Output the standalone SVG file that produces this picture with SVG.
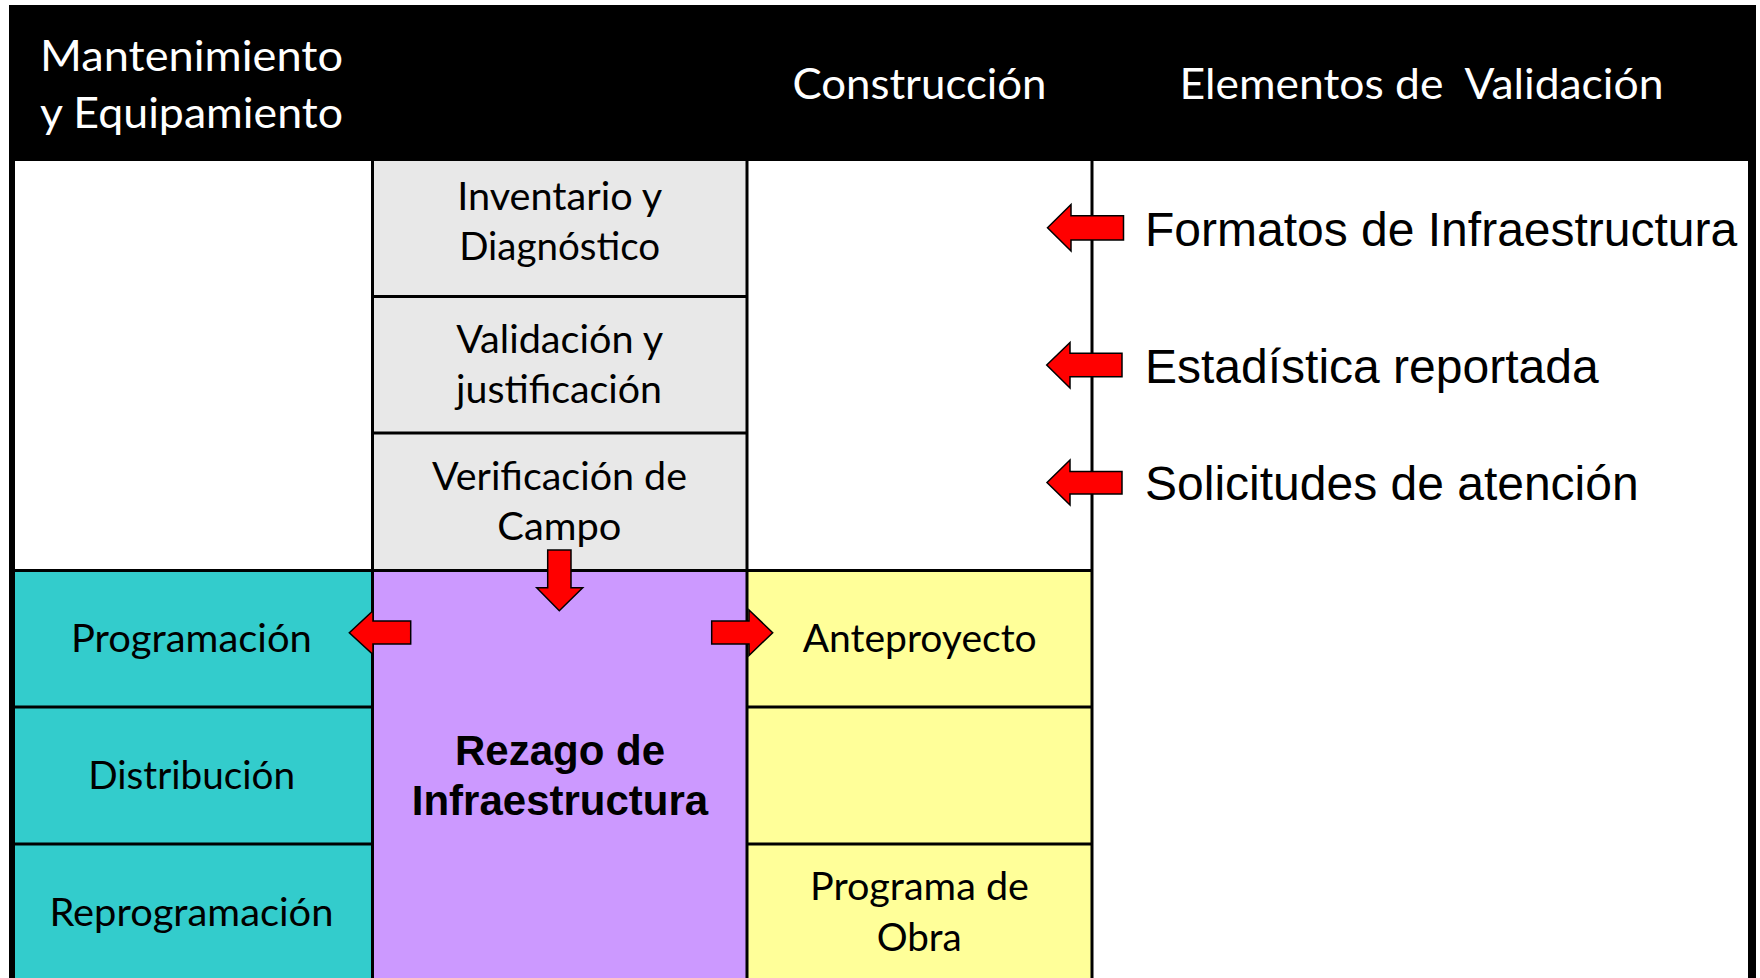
<svg xmlns="http://www.w3.org/2000/svg" width="1760" height="978" viewBox="0 0 1760 978">
<style>
.cal{font-family:Lato,"Open Sans","Noto Sans",sans-serif}
.hdr{fill:#ffffff;font-size:42.5px}
.cell{fill:#000000;font-size:38px;text-anchor:middle}
.ar{font-family:"Liberation Sans",Arial,sans-serif;font-size:48px;fill:#000000}
.bold{font-family:"Liberation Sans",Arial,sans-serif;font-size:42px;font-weight:bold;text-anchor:middle;fill:#000000}
.grid{stroke:#000000;stroke-width:3;fill:none}
.arrow{fill:#ff0000;stroke:#000000;stroke-width:1.5;stroke-linejoin:miter}
</style>
<rect x="0" y="0" width="1760" height="978" fill="#ffffff"/>
<g id="frame">
<rect x="9" y="5" width="1747" height="973" fill="#000000"/>
<rect x="15" y="161" width="1733" height="817" fill="#ffffff"/>
</g>
<g id="header">
<text class="cal hdr" x="40" y="71" textLength="303" lengthAdjust="spacingAndGlyphs">Mantenimiento</text>
<text class="cal hdr" x="40" y="128" textLength="303" lengthAdjust="spacingAndGlyphs">y Equipamiento</text>
<text class="cal hdr" x="792.5" y="99.3" textLength="254" lengthAdjust="spacingAndGlyphs">Construcción</text>
<text class="cal hdr" x="1179.5" y="99.3" textLength="484" lengthAdjust="spacingAndGlyphs" xml:space="preserve">Elementos de  Validación</text>
</g>
<g id="col-gray">
<rect x="372.5" y="161" width="374.5" height="409.5" fill="#e8e8e8"/>
</g>
<g id="col-teal">
<rect x="15" y="570.5" width="357.5" height="407.5" fill="#33cccc"/>
</g>
<g id="rezago">
<rect x="372.5" y="570.5" width="374.5" height="407.5" fill="#cc99ff"/>
<text class="bold" x="560" y="765">Rezago de</text>
<text class="bold" x="560" y="815">Infraestructura</text>
</g>
<g id="col-yellow">
<rect x="747" y="570.5" width="345" height="407.5" fill="#ffff99"/>
</g>
<g id="grid">
<line class="grid" x1="372.5" y1="161" x2="372.5" y2="978"/>
<line class="grid" x1="747" y1="161" x2="747" y2="978"/>
<line class="grid" x1="1092" y1="161" x2="1092" y2="978"/>
<line class="grid" x1="372.5" y1="296.5" x2="747" y2="296.5"/>
<line class="grid" x1="372.5" y1="433" x2="747" y2="433"/>
<line class="grid" x1="15" y1="570.5" x2="1092" y2="570.5"/>
<line class="grid" x1="15" y1="707" x2="372.5" y2="707"/>
<line class="grid" x1="15" y1="844" x2="372.5" y2="844"/>
<line class="grid" x1="747" y1="707" x2="1092" y2="707"/>
<line class="grid" x1="747" y1="844" x2="1092" y2="844"/>
</g>
<g id="inventario">
<text class="cal cell" x="559.7" y="210" textLength="205" lengthAdjust="spacingAndGlyphs">Inventario y</text>
<text class="cal cell" x="559.7" y="260" textLength="201" lengthAdjust="spacingAndGlyphs">Diagnóstico</text>
</g>
<g id="validacion">
<text class="cal cell" x="559.7" y="353.3" textLength="207" lengthAdjust="spacingAndGlyphs">Validación y</text>
<text class="cal cell" x="559" y="403.3" textLength="206" lengthAdjust="spacingAndGlyphs">justificación</text>
</g>
<g id="verificacion">
<text class="cal cell" x="559.5" y="490" textLength="255" lengthAdjust="spacingAndGlyphs">Verificación de</text>
<text class="cal cell" x="559.3" y="540" textLength="124" lengthAdjust="spacingAndGlyphs">Campo</text>
</g>
<g id="programacion">
<text class="cal cell" x="191.4" y="652.3" textLength="241" lengthAdjust="spacingAndGlyphs">Programación</text>
</g>
<g id="distribucion">
<text class="cal cell" x="191.7" y="789.3" textLength="207" lengthAdjust="spacingAndGlyphs">Distribución</text>
</g>
<g id="reprogramacion">
<text class="cal cell" x="191.4" y="925.7" textLength="284" lengthAdjust="spacingAndGlyphs">Reprogramación</text>
</g>
<g id="anteproyecto">
<text class="cal cell" x="919.7" y="651.7" textLength="234" lengthAdjust="spacingAndGlyphs">Anteproyecto</text>
</g>
<g id="programa-obra">
<text class="cal cell" x="919.5" y="900" textLength="219" lengthAdjust="spacingAndGlyphs">Programa de</text>
<text class="cal cell" x="919.2" y="950.7" textLength="85" lengthAdjust="spacingAndGlyphs">Obra</text>
</g>
<g id="formatos">
<text class="ar" x="1145" y="245.7">Formatos de Infraestructura</text>
</g>
<g id="estadistica">
<text class="ar" x="1145" y="382.7">Estadística reportada</text>
</g>
<g id="solicitudes">
<text class="ar" x="1145" y="500">Solicitudes de atención</text>
</g>
<g id="connectors">
<polygon class="arrow" points="1047.5,227.7 1071,204.5 1071,215.7 1123.5,215.7 1123.5,240 1071,240 1071,251"/>
<polygon class="arrow" points="1046.7,365 1070,342.5 1070,353.3 1122,353.3 1122,376.7 1070,376.7 1070,388"/>
<polygon class="arrow" points="1047,482.5 1070,460 1070,471.5 1122,471.5 1122,494 1070,494 1070,505"/>
<polygon class="arrow" points="547.7,550 571,550 571,587.7 582.7,587.7 559.3,610.7 536.7,587.7 547.7,587.7"/>
<polygon class="arrow" points="349.3,632.7 373,610.8 373,621 410.7,621 410.7,644 373,644 373,654.5"/>
<polygon class="arrow" points="711.7,621 749,621 749,610 772.7,632.7 749,655.5 749,644 711.7,644"/>
</g>
</svg>
